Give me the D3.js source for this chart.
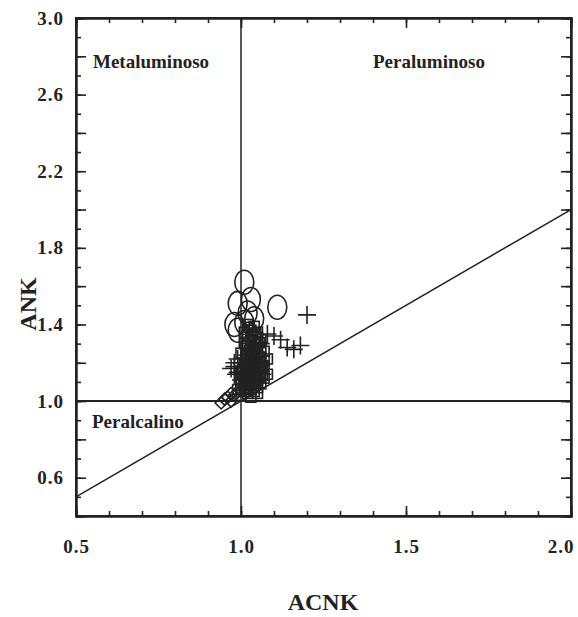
<!DOCTYPE html>
<html>
<head>
<meta charset="utf-8">
<script src="https://cdn.jsdelivr.net/npm/d3@7"></script>
<style>
  body { margin: 0; background: #fff; }
  svg text { font-family: "Liberation Serif", "Times New Roman", serif; font-weight: bold; fill: #222; }
  .axis path { stroke: #222; stroke-width: 2; }
  .axis line { stroke: #222; stroke-width: 1.6; }
  .axis text { font-size: 19px; letter-spacing: 1px; }
</style>
</head>
<body>
<div id="chart"></div>
<script>
// circles (ACNK, ANK)
let circles = [[1.01, 1.62], [0.99, 1.51], [1.03, 1.53], [1.02, 1.46], [0.98, 1.40],
  [1.01, 1.41], [1.04, 1.43], [1.11, 1.49], [0.99, 1.37]];
// squares
let squares = [[1.00, 1.03], [1.01, 1.05], [1.02, 1.07], [1.03, 1.06], [1.04, 1.08], [1.05, 1.07],
  [1.06, 1.09], [1.02, 1.10], [1.03, 1.12], [1.05, 1.11], [1.07, 1.12], [1.01, 1.13], [1.04, 1.14],
  [1.06, 1.15], [1.02, 1.16], [1.03, 1.18], [1.05, 1.19], [1.07, 1.18], [1.01, 1.20], [1.04, 1.22],
  [1.06, 1.23], [1.02, 1.25], [1.03, 1.27], [1.05, 1.28], [1.07, 1.26], [1.01, 1.30], [1.04, 1.31],
  [1.06, 1.32], [1.02, 1.34], [1.03, 1.37], [1.05, 1.36], [1.02, 1.40], [1.04, 1.39], [1.00, 1.09],
  [0.99, 1.06], [1.00, 1.15], [1.08, 1.14], [1.08, 1.22], [1.03, 1.02], [1.05, 1.04],
  [1.01, 1.08], [1.02, 1.04], [1.04, 1.05], [1.03, 1.10], [1.05, 1.13], [1.04, 1.17], [1.06, 1.20],
  [1.02, 1.21], [1.03, 1.24], [1.05, 1.24], [1.04, 1.27], [1.02, 1.29], [1.03, 1.32], [1.05, 1.33],
  [1.06, 1.17], [1.01, 1.11], [1.00, 1.06], [1.03, 1.15], [1.04, 1.10], [1.07, 1.21],
  [1.015, 1.065], [1.025, 1.085], [1.035, 1.095], [1.045, 1.115], [1.055, 1.125], [1.065, 1.135],
  [1.015, 1.145], [1.025, 1.135], [1.035, 1.155], [1.045, 1.165], [1.055, 1.175], [1.065, 1.185],
  [1.015, 1.185], [1.025, 1.195], [1.035, 1.205], [1.045, 1.215], [1.055, 1.225], [1.015, 1.235],
  [1.025, 1.265], [1.035, 1.255], [1.045, 1.295], [1.055, 1.305], [1.015, 1.275], [1.035, 1.345],
  [1.045, 1.355], [1.025, 1.385], [1.01, 1.36], [1.06, 1.28], [1.00, 1.25], [0.995, 1.12]];
// plus signs
let pluses = [[1.20, 1.45], [1.08, 1.35], [1.10, 1.34], [1.12, 1.32], [1.14, 1.28], [1.16, 1.27],
  [1.18, 1.29], [1.06, 1.30], [0.98, 1.18], [1.00, 1.20], [0.99, 1.15], [1.01, 1.17], [1.03, 1.21],
  [1.04, 1.13], [1.05, 1.16], [1.02, 1.24], [1.00, 1.11], [1.03, 1.09], [0.99, 1.22],
  [1.01, 1.07], [1.02, 1.13], [1.04, 1.19], [1.06, 1.11], [1.03, 1.27], [1.05, 1.25], [0.98, 1.20], [1.02, 1.31],
  [0.97, 1.17], [0.985, 1.14], [1.005, 1.16], [1.015, 1.19], [1.025, 1.09], [1.045, 1.07], [1.035, 1.23],
  [1.055, 1.21], [1.065, 1.14]];
// diamonds
let diamonds = [[0.94, 0.99], [0.95, 1.01], [0.96, 1.02], [0.97, 1.00], [0.98, 1.03], [0.99, 1.05], [0.97, 1.04]];

let xLabels = [0.5, 1.0, 1.5, 2.0];
let yLabels = [0.6, 1.0, 1.4, 1.8, 2.2, 2.6, 3.0];

let width = 578, height = 617;
let padL = 76, padR = 571, padT = 18, padB = 516;

let x = d3.scaleLinear().domain([0.5, 2.0]).range([padL, padR]);
let y = d3.scaleLinear().domain([0.4, 3.0]).range([padB, padT]);

let svg = d3.select("#chart").append("svg")
  .attr("width", width)
  .attr("height", height);

let xMinor = d3.range(5, 21).map(d => d / 10);
let xMajor = [1.0, 1.5];
let yMinor = d3.range(4, 31).map(d => d / 10);
let yMajor = d3.range(2, 16).map(d => d / 5);

// minor ticks (inward)
svg.append("g").attr("class", "axis").attr("transform", "translate(0," + padB + ")")
  .call(d3.axisBottom(x).tickValues(xMinor).tickSize(-5).tickFormat(""));
svg.append("g").attr("class", "axis").attr("transform", "translate(0," + padT + ")")
  .call(d3.axisTop(x).tickValues(xMinor).tickSize(-5).tickFormat(""));
svg.append("g").attr("class", "axis").attr("transform", "translate(" + padL + ",0)")
  .call(d3.axisLeft(y).tickValues(yMinor).tickSize(-5).tickFormat(""));
svg.append("g").attr("class", "axis").attr("transform", "translate(" + padR + ",0)")
  .call(d3.axisRight(y).tickValues(yMinor).tickSize(-5).tickFormat(""));

// major ticks
svg.append("g").attr("class", "axis").attr("transform", "translate(0," + padB + ")")
  .call(d3.axisBottom(x).tickValues(xMajor).tickSize(-10).tickFormat(""));
svg.append("g").attr("class", "axis").attr("transform", "translate(0," + padT + ")")
  .call(d3.axisTop(x).tickValues(xMajor).tickSize(-10).tickFormat(""));
svg.append("g").attr("class", "axis").attr("transform", "translate(" + padL + ",0)")
  .call(d3.axisLeft(y).tickValues(yMajor).tickSize(-10).tickFormat(""));
svg.append("g").attr("class", "axis").attr("transform", "translate(" + padR + ",0)")
  .call(d3.axisRight(y).tickValues(yMajor).tickSize(-10).tickFormat(""));

// tick labels
let xAxis = svg.append("g").attr("class", "axis").attr("transform", "translate(0," + padB + ")")
  .call(d3.axisBottom(x).tickValues(xLabels).tickSize(0).tickPadding(24).tickFormat(d3.format(".1f")));
xAxis.select(".domain").remove();
// last label sits inside the right edge
xAxis.selectAll(".tick text").filter(d => d === 2.0)
  .attr("text-anchor", "end").attr("x", 3);
let yAxis = svg.append("g").attr("class", "axis").attr("transform", "translate(" + padL + ",0)")
  .call(d3.axisLeft(y).tickValues(yLabels).tickSize(0).tickPadding(12).tickFormat(d3.format(".1f")));
yAxis.select(".domain").remove();

// frame
svg.append("rect")
  .attr("x", padL).attr("y", padT)
  .attr("width", padR - padL).attr("height", padB - padT)
  .attr("fill", "none").attr("stroke", "#222").attr("stroke-width", 2);

// boundary lines
svg.append("line")
  .attr("x1", x(1.0)).attr("x2", x(1.0))
  .attr("y1", y(0.4)).attr("y2", y(3.0))
  .attr("stroke", "#222").attr("stroke-width", 1.5);
svg.append("line")
  .attr("x1", x(0.5)).attr("x2", x(2.0))
  .attr("y1", y(1.0)).attr("y2", y(1.0))
  .attr("stroke", "#222").attr("stroke-width", 2);
svg.append("line")
  .attr("x1", x(0.5)).attr("x2", x(2.0))
  .attr("y1", y(0.5)).attr("y2", y(2.0))
  .attr("stroke", "#222").attr("stroke-width", 1.5);

// markers
let marks = svg.append("g")
  .attr("fill", "none")
  .attr("stroke", "#222")
  .attr("stroke-width", 1.6);

marks.selectAll(".sq").data(squares).enter().append("rect")
  .attr("x", d => x(d[0]) - 5).attr("y", d => y(d[1]) - 5)
  .attr("width", 10).attr("height", 10);

marks.selectAll(".pl").data(pluses).enter().append("path")
  .attr("d", d => {
    let cx = x(d[0]), cy = y(d[1]);
    return "M" + (cx - 9) + "," + cy + "H" + (cx + 9) + "M" + cx + "," + (cy - 9) + "V" + (cy + 9);
  });

marks.selectAll(".di").data(diamonds).enter().append("path")
  .attr("d", d => {
    let cx = x(d[0]), cy = y(d[1]);
    return "M" + cx + "," + (cy - 6) + "L" + (cx + 6) + "," + cy + "L" + cx + "," + (cy + 6) + "L" + (cx - 6) + "," + cy + "Z";
  });

marks.selectAll(".ci").data(circles).enter().append("ellipse")
  .attr("cx", d => x(d[0])).attr("cy", d => y(d[1]))
  .attr("rx", 9.5).attr("ry", 12);

// region labels
svg.append("text").text("Metaluminoso")
  .attr("x", 93).attr("y", 68).attr("font-size", 19);
svg.append("text").text("Peraluminoso")
  .attr("x", 373).attr("y", 68).attr("font-size", 19);
svg.append("text").text("Peralcalino")
  .attr("x", 92).attr("y", 428).attr("font-size", 19);

// axis titles
svg.append("text").text("ACNK")
  .attr("x", 323).attr("y", 610)
  .attr("text-anchor", "middle").attr("font-size", 24);
svg.append("text").text("ANK")
  .attr("transform", "translate(36,304) rotate(-90)")
  .attr("text-anchor", "middle").attr("font-size", 24);
</script>
</body>
</html>
